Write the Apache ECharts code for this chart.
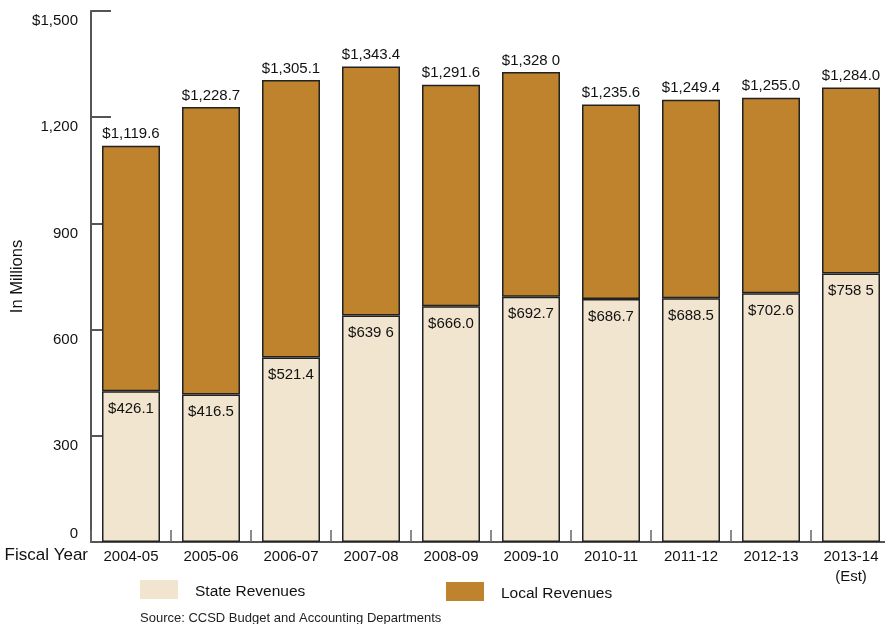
<!DOCTYPE html>
<html>
<head>
<meta charset="utf-8">
<script src="https://cdn.jsdelivr.net/npm/echarts@6/dist/echarts.min.js"></script>
<style>html,body{margin:0;padding:0;background:#fff}#c{width:885px;height:624px}</style>
</head>
<body>
<div id="c"></div>
<script>
var categories = ['2004-05','2005-06','2006-07','2007-08','2008-09','2009-10','2010-11','2011-12','2012-13','2013-14\n(Est)'];
var stateValues = [426.1, 416.5, 521.4, 639.6, 666.0, 692.7, 686.7, 688.5, 702.6, 758.5];
var localValues = [693.5, 812.2, 783.7, 703.8, 625.6, 635.3, 548.9, 560.9, 552.4, 525.5];
var stateLabels = ['$426.1','$416.5','$521.4','$639 6','$666.0','$692.7','$686.7','$688.5','$702.6','$758 5'];
var totalLabels = ['$1,119.6','$1,228.7','$1,305.1','$1,343.4','$1,291.6','$1,328 0','$1,235.6','$1,249.4','$1,255.0','$1,284.0'];
var yTickLabels = {0:'0',300:'300',600:'600',900:'900',1200:'1,200',1500:'$1,500'};

var FONT = '"Liberation Sans", Arial, sans-serif';
var chart = echarts.init(document.getElementById('c'), null, {renderer:'canvas'});
var legendText = {fontFamily: FONT, fontSize: 15.5, color: '#111',
  rich: {a: {fontFamily: FONT, fontSize: 15.5, color: '#111', padding: [5,0,0,12]}}};
chart.setOption({
  animation: false,
  backgroundColor: '#fff',
  textStyle: {fontFamily: FONT},
  title: {
    text: 'Source: CCSD Budget and Accounting Departments',
    left: 140, top: 612,
    padding: 0,
    textStyle: {fontFamily: FONT, fontSize: 13, fontWeight: 'normal', color: '#222'}
  },
  legend: [
    {data: ['State Revenues'], left: 140, top: 580, itemWidth: 38, itemHeight: 19, padding: 0, icon: 'rect',
     itemStyle: {borderWidth: 0}, formatter: function (n) { return '{a|' + n + '}'; },
     textStyle: legendText},
    {data: ['Local Revenues'], left: 446, top: 582, itemWidth: 38, itemHeight: 19, padding: 0, icon: 'rect',
     itemStyle: {borderWidth: 0}, formatter: function (n) { return '{a|' + n + '}'; },
     textStyle: legendText}
  ],
  grid: {left: 91, right: -6, top: 11, bottom: 82, containLabel: false, outerBoundsMode: 'none'},
  xAxis: {
    type: 'category',
    data: categories,
    name: 'Fiscal Year',
    nameLocation: 'start',
    nameGap: 3,
    nameMoveOverlap: false,
    nameTextStyle: {fontFamily: FONT, fontSize: 17, color: '#111', align: 'right', verticalAlign: 'top', padding: [5,0,0,0]},
    axisLine: {show: true, lineStyle: {color: '#555', width: 2}},
    axisTick: {show: true, inside: true, length: 12, alignWithLabel: false, lineStyle: {color: '#666', width: 1.5}},
    axisLabel: {fontFamily: FONT, fontSize: 15, color: '#111', margin: 5, lineHeight: 20, interval: 0},
    splitLine: {show: false}
  },
  yAxis: {
    type: 'value',
    min: 0, max: 1500, interval: 300,
    name: 'In Millions',
    nameLocation: 'middle',
    nameGap: 65,
    nameRotate: 90,
    nameMoveOverlap: false,
    nameTextStyle: {fontFamily: FONT, fontSize: 16.5, color: '#111'},
    axisLine: {show: true, lineStyle: {color: '#555', width: 2}},
    axisTick: {show: true, inside: true, length: 20, lineStyle: {color: '#555', width: 2}},
    splitLine: {show: false},
    axisLabel: {
      margin: 13,
      formatter: function (v) {
        var t = yTickLabels[v] !== undefined ? yTickLabels[v] : String(v);
        return v === 0 ? '{z|' + t + '}' : '{n|' + t + '}';
      },
      rich: {
        n: {fontFamily: FONT, fontSize: 15, color: '#111', padding: [20,0,0,0]},
        z: {fontFamily: FONT, fontSize: 15, color: '#111', padding: [0,0,16,0]}
      }
    }
  },
  series: [
    {
      name: 'State Revenues', type: 'bar', stack: 'rev', barWidth: 58,
      data: stateValues,
      itemStyle: {color: '#F2E5CF', borderColor: '#222', borderWidth: 1.5},
      label: {show: true, position: 'insideTop', distance: 10, fontFamily: FONT, fontSize: 15, color: '#111',
        formatter: function (p) { return stateLabels[p.dataIndex]; }}
    },
    {
      name: 'Local Revenues', type: 'bar', stack: 'rev', barWidth: 58,
      data: localValues,
      itemStyle: {color: '#BF832D', borderColor: '#222', borderWidth: 1.5},
      label: {show: true, position: 'top', distance: 4, fontFamily: FONT, fontSize: 15, color: '#111',
        formatter: function (p) { return totalLabels[p.dataIndex]; }}
    }
  ]
});
</script>
</body>
</html>
